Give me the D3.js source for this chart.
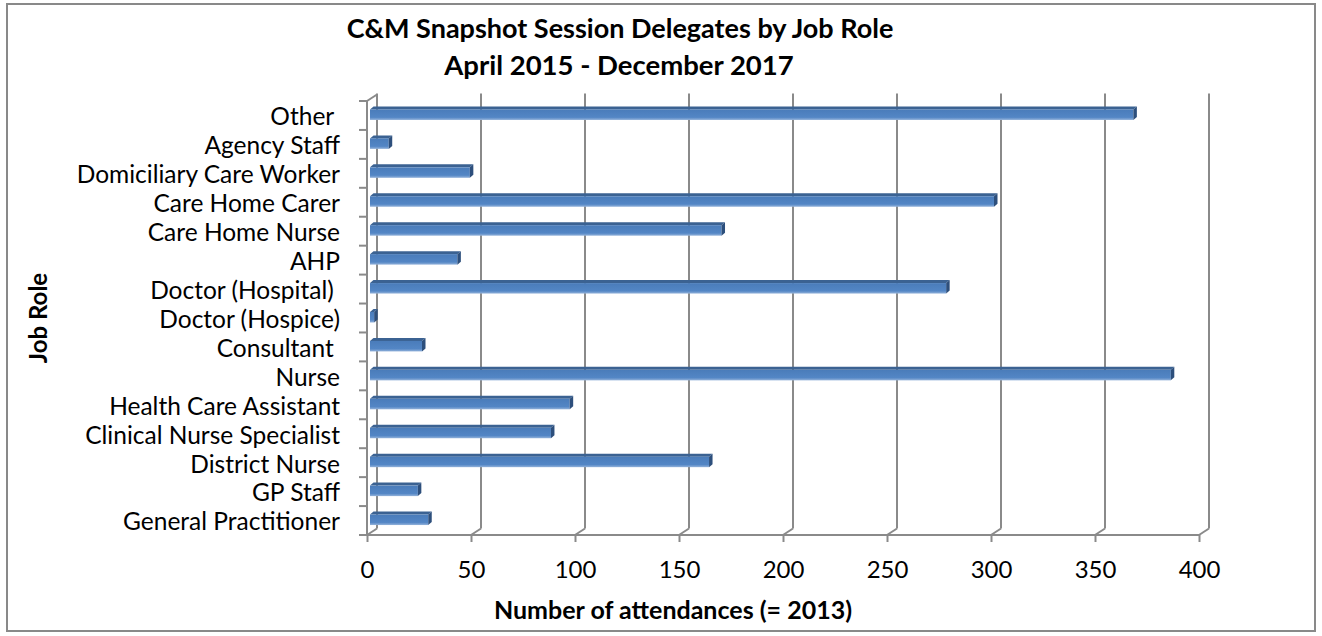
<!DOCTYPE html>
<html>
<head>
<meta charset="utf-8">
<script src="https://cdn.jsdelivr.net/npm/d3@7"></script>
<style>
  html, body { margin: 0; padding: 0; background: #fff; }
  svg { display: block; }
  text { font-family: Lato, "Open Sans", sans-serif; fill: #000; }
</style>
</head>
<body>
<svg id="chart" width="1322" height="636"></svg>
<script>
// ---- data (bottom to top, as in the source sheet) ----
const categories = [
  "General Practitioner", "GP Staff", "District Nurse", "Clinical Nurse Specialist",
  "Health Care Assistant", "Nurse", "Consultant ", "Doctor (Hospice)",
  "Doctor (Hospital) ", "AHP", "Care Home Nurse", "Care Home Carer",
  "Domiciliary Care Worker", "Agency Staff", "Other "
];
const attendances = [28, 23, 163, 87, 96, 385, 25, 2, 277, 42, 169, 300, 48, 9, 367];
const tickValues = [0, 50, 100, 150, 200, 250, 300, 350, 400];
const titleLines = ["C&M Snapshot Session Delegates by Job Role", "April 2015 - December 2017"];
const xTitle = "Number of attendances (= 2013)";
const yTitle = "Job Role";

const svg = d3.select("#chart");

// outer border
svg.append("rect").attr("x", 7).attr("y", 4).attr("width", 1308).attr("height", 627)
  .attr("fill", "#fff").attr("stroke", "#898989").attr("stroke-width", 2);

// scales (front plane)
const x = d3.scaleLinear().domain([0, 400]).range([367, 1199]);
const y = d3.scaleBand().domain(categories.slice().reverse()).range([101, 535]).padding(0);
const DX = 10, DY = -6.5;          // depth offset of back wall
const gridCol = "#8a8a8a";

// back wall gridlines + floor diagonals
const grid = svg.append("g");
tickValues.forEach(v => {
  grid.append("line")
    .attr("x1", x(v) + DX).attr("x2", x(v) + DX)
    .attr("y1", 101 + DY - 1).attr("y2", 535 + DY)
    .attr("stroke", gridCol).attr("stroke-width", 2);
  grid.append("line")
    .attr("x1", x(v)).attr("y1", 535)
    .attr("x2", x(v) + DX).attr("y2", 535 + DY)
    .attr("stroke", gridCol).attr("stroke-width", 2);
});
grid.append("line").attr("x1", x(0)).attr("y1", 101).attr("x2", x(0) + DX).attr("y2", 101 + DY)
  .attr("stroke", gridCol).attr("stroke-width", 2);
grid.append("line").attr("x1", x(0)).attr("x2", x(400)).attr("y1", 535).attr("y2", 535)
  .attr("stroke", gridCol).attr("stroke-width", 2);
grid.append("line").attr("x1", x(0)).attr("x2", x(0)).attr("y1", 101).attr("y2", 535)
  .attr("stroke", gridCol).attr("stroke-width", 2);
const bounds = y.domain().map(c => y(c)).concat([535]);
bounds.forEach(b => {
  grid.append("line").attr("x1", x(0) - 8).attr("x2", x(0)).attr("y1", b).attr("y2", b)
    .attr("stroke", gridCol).attr("stroke-width", 2);
});

// gradient for bar front face
const defs = svg.append("defs");
const grad = defs.append("linearGradient").attr("id", "barFront")
  .attr("x1", 0).attr("y1", 0).attr("x2", 0).attr("y2", 1);
grad.append("stop").attr("offset", "0%").attr("stop-color", "#4a7cba");
grad.append("stop").attr("offset", "75%").attr("stop-color", "#5386c5");
grad.append("stop").attr("offset", "100%").attr("stop-color", "#93b2da");

// bars (3D)
const bdx = 3.5, bdy = 3, bx = 3;
const bars = svg.append("g");
categories.forEach((c, i) => {
  const v = attendances[i];
  const yc = y(c) + y.bandwidth() / 2;
  const top = yc - 6, bot = yc + 4.5;
  const x0 = x(0) + bx, x1 = x(v) + bx;
  bars.append("path")
    .attr("d", `M${x0},${top} L${x1},${top} L${x1 + bdx},${top - bdy} L${x0 + bdx},${top - bdy} Z`)
    .attr("fill", "#3b6292");
  bars.append("rect").attr("x", x0).attr("y", top).attr("width", Math.max(0, x1 - x0)).attr("height", bot - top)
    .attr("fill", "url(#barFront)");
  bars.append("path")
    .attr("d", `M${x1},${top} L${x1 + bdx},${top - bdy} L${x1 + bdx},${bot - bdy} L${x1},${bot} Z`)
    .attr("fill", "#2d4f7c");
});

// x axis ticks & labels
const xAxis = d3.axisBottom(x).tickValues(tickValues).tickSize(7).tickPadding(19).tickFormat(d3.format("d"));
const gx = svg.append("g").attr("transform", "translate(0,535)").call(xAxis);
gx.select(".domain").remove();
gx.selectAll(".tick line").attr("stroke", gridCol).attr("stroke-width", 2);
gx.selectAll(".tick text").attr("font-size", 24).attr("font-family", "Lato, sans-serif").attr("fill", "#000");

// y axis labels
const yAxis = d3.axisLeft(y).tickSize(0).tickPadding(27);
const gy = svg.append("g").attr("transform", `translate(${x(0)},2)`).call(yAxis);
gy.select(".domain").remove();
gy.selectAll(".tick text").attr("font-size", 24.5).attr("font-family", "Lato, sans-serif")
  .attr("fill", "#000").style("white-space", "pre");

// titles
svg.append("text").attr("x", 620).attr("y", 38).attr("text-anchor", "middle")
  .attr("font-size", 27).attr("font-weight", "bold").text(titleLines[0]);
svg.append("text").attr("x", 619).attr("y", 75).attr("text-anchor", "middle")
  .attr("font-size", 27.5).attr("font-weight", "bold").text(titleLines[1]);
svg.append("text").attr("x", 673).attr("y", 619).attr("text-anchor", "middle")
  .attr("font-size", 25).attr("font-weight", "bold").text(xTitle);
svg.append("text").attr("transform", "translate(47,318) rotate(-90)").attr("text-anchor", "middle")
  .attr("font-size", 24).attr("font-weight", "bold").text(yTitle);
</script>
</body>
</html>
